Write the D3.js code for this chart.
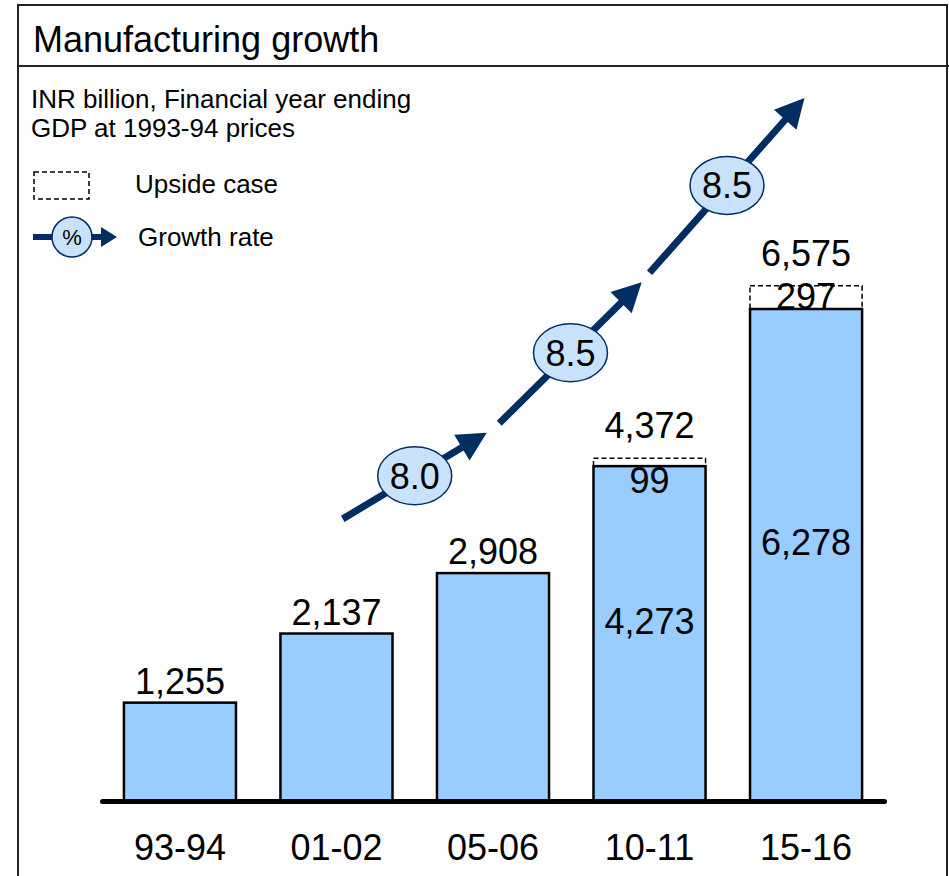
<!DOCTYPE html>
<html>
<head>
<meta charset="utf-8">
<script src="https://cdn.jsdelivr.net/npm/d3@7"></script>
<style>
  html, body { margin: 0; padding: 0; background: #fff; }
  svg { display: block; font-family: "Liberation Sans", Arial, Helvetica, sans-serif; }
</style>
</head>
<body>
<svg id="chart" width="949" height="876"></svg>
<script>
// Manufacturing output, INR billion (GDP at 1993-94 prices)
const categories = ["93-94", "01-02", "05-06", "10-11", "15-16"];
const baseValues = [1255, 2137, 2908, 4273, 6278];
const upsideValues = [0, 0, 0, 99, 297];
const totalValues = [1255, 2137, 2908, 4372, 6575];

// Growth-rate arrows (% a year) between periods
const growthRates = ["8.0", "8.5", "8.5"];
const growthFromPos = [1.04, 2.04, 3.0];     // period index where each arrow starts
const growthToPos = [1.96, 2.95, 3.99];      // period index where each arrow ends
const growthFromLevel = [3600, 4820, 6740];  // value level at arrow start
const growthToLevel = [4700, 6620, 8970];    // value level at arrow tip

const titleText = "Manufacturing growth";
const subtitleLines = ["INR billion, Financial year ending", "GDP at 1993-94 prices"];
const legendUpside = "Upside case";
const legendGrowth = "Growth rate";

const NAVY = "#002d62";
const BAR_FILL = "#99ccff";
const BUBBLE_FILL = "#c9e2fb";

const svg = d3.select("#chart");

// Frame and title band
svg.append("rect").attr("x", 18).attr("y", 5).attr("width", 929).attr("height", 900)
  .attr("fill", "none").attr("stroke", "#222").attr("stroke-width", 2);
svg.append("line").attr("x1", 18).attr("x2", 949).attr("y1", 66).attr("y2", 66)
  .attr("stroke", "#222").attr("stroke-width", 2);
svg.append("text").attr("x", 33).attr("y", 52).attr("font-size", 36).text(titleText);

svg.selectAll("text.sub").data(subtitleLines).join("text")
  .attr("class", "sub").attr("x", 31).attr("y", (d, i) => 108 + i * 29)
  .attr("font-size", 26).text(d => d);

// Scales
const x = d3.scaleBand().domain(categories).range([102, 884])
  .paddingInner(0.284).paddingOuter(0.14);
const y = d3.scaleLinear().domain([0, 6278]).range([801, 309]);
const bw = x.bandwidth();
const xi = d3.scaleLinear().domain([0, categories.length - 1])
  .range([x(categories[0]) + bw / 2, x(categories[categories.length - 1]) + bw / 2]);

const rows = categories.map((c, i) => ({
  cat: c, base: baseValues[i], up: upsideValues[i], total: totalValues[i]
}));

// Upside segments (dashed)
svg.selectAll("rect.up").data(rows.filter(d => d.up > 0)).join("rect")
  .attr("class", "up")
  .attr("x", d => x(d.cat)).attr("width", bw)
  .attr("y", d => y(d.total)).attr("height", d => y(d.base) - y(d.total))
  .attr("fill", "#fff").attr("stroke", "#000").attr("stroke-width", 1.5)
  .attr("stroke-dasharray", "5,3");

// Base bars
svg.selectAll("rect.bar").data(rows).join("rect")
  .attr("class", "bar")
  .attr("x", d => x(d.cat)).attr("width", bw)
  .attr("y", d => y(d.base)).attr("height", d => y(0) - y(d.base))
  .attr("fill", BAR_FILL).attr("stroke", "#000").attr("stroke-width", 2.5);

const fmt = d3.format(",");

// Total labels above each column
svg.selectAll("text.total").data(rows).join("text")
  .attr("class", "total")
  .attr("x", d => x(d.cat) + bw / 2)
  .attr("y", d => y(d.total) - (d.up > 0 ? 20 : 9))
  .attr("text-anchor", "middle").attr("font-size", 36)
  .text(d => fmt(d.total));

// Base values inside columns that carry an upside
svg.selectAll("text.base").data(rows.filter(d => d.up > 0)).join("text")
  .attr("class", "base")
  .attr("x", d => x(d.cat) + bw / 2)
  .attr("y", d => (y(d.base) + y(0)) / 2)
  .attr("text-anchor", "middle").attr("font-size", 36)
  .text(d => fmt(d.base));

// Upside values
svg.selectAll("text.upv").data(rows.filter(d => d.up > 0)).join("text")
  .attr("class", "upv")
  .attr("x", d => x(d.cat) + bw / 2)
  .attr("y", d => {
    const h = y(d.base) - y(d.total);
    return h < 20 ? y(d.base) + 27 : (y(d.base) + y(d.total)) / 2 + 12;
  })
  .attr("text-anchor", "middle").attr("font-size", 36)
  .text(d => fmt(d.up));

// Category axis with heavy baseline
const axis = svg.append("g").attr("transform", `translate(0,${y(0)})`)
  .call(d3.axisBottom(x).tickSize(0).tickSizeOuter(0).tickPadding(33));
axis.select(".domain").attr("stroke", "#000").attr("stroke-width", 5)
  .attr("stroke-linecap", "round");
axis.selectAll(".tick text").attr("font-size", 36).attr("fill", "#000")
  .attr("font-family", "Liberation Sans, Arial, sans-serif");

// Arrow helper: shaft + triangular head, tip at (x2,y2)
function arrow(g, x1, y1, x2, y2, width, headLen, headHalf) {
  const dx = x2 - x1, dy = y2 - y1, len = Math.hypot(dx, dy);
  const ux = dx / len, uy = dy / len, nx = -uy, ny = ux;
  const bx = x2 - ux * headLen, by = y2 - uy * headLen;
  g.append("line").attr("x1", x1).attr("y1", y1).attr("x2", bx + ux).attr("y2", by + uy)
    .attr("stroke", NAVY).attr("stroke-width", width);
  g.append("path")
    .attr("d", `M${x2},${y2}L${bx + nx * headHalf},${by + ny * headHalf}L${bx - nx * headHalf},${by - ny * headHalf}Z`)
    .attr("fill", NAVY);
}

// Growth arrows with rate bubbles
const growth = growthRates.map((r, i) => ({
  rate: r,
  x1: xi(growthFromPos[i]), y1: y(growthFromLevel[i]),
  x2: xi(growthToPos[i]), y2: y(growthToLevel[i])
}));
growth.forEach(d => {
  const g = svg.append("g").attr("class", "growth");
  arrow(g, d.x1, d.y1, d.x2, d.y2, 7, 29, 15);
  const cx = (d.x1 + d.x2) / 2, cy = (d.y1 + d.y2) / 2;
  g.append("ellipse").attr("cx", cx).attr("cy", cy).attr("rx", 37).attr("ry", 29)
    .attr("fill", BUBBLE_FILL).attr("stroke", NAVY).attr("stroke-width", 1.5);
  g.append("text").attr("x", cx).attr("y", cy + 13).attr("text-anchor", "middle")
    .attr("font-size", 36).text(d.rate);
});

// Legend
const lg = svg.append("g").attr("class", "legend");
lg.append("rect").attr("x", 34).attr("y", 172).attr("width", 55).attr("height", 27)
  .attr("fill", "none").attr("stroke", "#000").attr("stroke-width", 1.5)
  .attr("stroke-dasharray", "5,3");
lg.append("text").attr("x", 135).attr("y", 193).attr("font-size", 26).text(legendUpside);

arrow(lg, 33, 237, 117, 237, 6, 16, 10);
lg.append("circle").attr("cx", 72).attr("cy", 237).attr("r", 20)
  .attr("fill", BUBBLE_FILL).attr("stroke", NAVY).attr("stroke-width", 1.5);
lg.append("text").attr("x", 72).attr("y", 245).attr("text-anchor", "middle")
  .attr("font-size", 22).text("%");
lg.append("text").attr("x", 138).attr("y", 246).attr("font-size", 26).text(legendGrowth);
</script>
</body>
</html>
